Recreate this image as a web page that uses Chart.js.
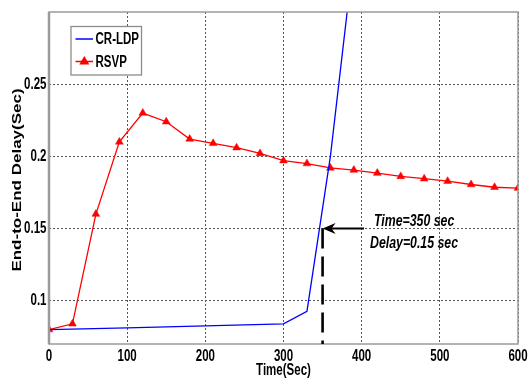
<!DOCTYPE html>
<html>
<head>
<meta charset="utf-8">
<script src="https://cdn.jsdelivr.net/npm/chart.js"></script>
<style>
html,body{margin:0;padding:0;background:#fff;}
#wrap{width:529px;height:384px;position:relative;}
</style>
</head>
<body>
<div id="wrap"><canvas id="c" width="529" height="384"></canvas></div>
<script>
// ---- data ----
const rsvpTime = [0,30,60,90,120,150,180,210,240,270,300,330,360,390,420,450,480,510,540,570,600];
const rsvpDelay = [0.080,0.084,0.160,0.210,0.230,0.224,0.212,0.209,0.206,0.202,0.197,0.195,0.192,0.1905,0.1884,0.1861,0.1845,0.1828,0.1805,0.1786,0.178];
const crldpTime = [0,100,200,300,330,360,390];
const crldpDelay = [0.080,0.0812,0.0826,0.084,0.0926,0.200,0.340];
const xTicks = [0,100,200,300,400,500,600];
const yTicks = [0.1,0.15,0.2,0.25];
const seriesNames = ['CR-LDP','RSVP'];
const markTime = 350, markDelay = 0.15;
const noteLines = ['Time=350 sec','Delay=0.15 sec'];
const xTitle = 'Time(Sec)';
const yTitle = 'End-to-End Delay(Sec)';

const SANS = "'Liberation Sans',Arial,sans-serif";
const SQ = 0.72; // horizontal squeeze of the original picture

function squeezedText(ctx, text, x, y, font, align, sx){
  ctx.save();
  ctx.font = font;
  ctx.textBaseline = 'middle';
  ctx.textAlign = 'left';
  const w = ctx.measureText(text).width * sx;
  let x0 = x;
  if (align === 'center') x0 = x - w/2;
  else if (align === 'right') x0 = x - w;
  ctx.translate(x0, y);
  ctx.scale(sx, 1);
  ctx.fillText(text, 0, 0);
  ctx.restore();
}

const toXY = (xs, ys) => xs.map((x,i)=>({x:x,y:ys[i]}));

const decor = {
  id:'decor',
  afterDraw(chart){
    const ctx = chart.ctx, a = chart.chartArea;
    const xs = chart.scales.x, ys = chart.scales.y;
    ctx.save();
    // frame
    ctx.strokeStyle = '#9a9a9a';
    ctx.lineWidth = 1.5;
    ctx.strokeRect(a.left, a.top, a.right-a.left, a.bottom-a.top);
    ctx.lineWidth = 2.5;
    ctx.beginPath(); ctx.moveTo(a.left, a.top); ctx.lineTo(a.left, a.bottom); ctx.stroke();

    // tick labels from the library's scales
    ctx.fillStyle = '#000';
    const tickFont = "bold 16px " + SANS;
    xs.ticks.forEach(t => {
      squeezedText(ctx, String(t.value), xs.getPixelForValue(t.value), 356.5, tickFont, 'center', SQ);
    });
    ys.ticks.forEach(t => {
      squeezedText(ctx, String(t.value), a.left - 2.5, ys.getPixelForValue(t.value), tickFont, 'right', SQ);
    });

    // annotation
    const px = xs.getPixelForValue(markTime), py = ys.getPixelForValue(markDelay);
    ctx.strokeStyle = '#000'; ctx.fillStyle = '#000';
    ctx.lineWidth = 2.6;
    ctx.setLineDash([20,8]);
    ctx.beginPath(); ctx.moveTo(px, py); ctx.lineTo(px, a.bottom); ctx.stroke();
    ctx.setLineDash([]);
    const tail = xs.getPixelForValue(403);
    ctx.lineWidth = 2.2;
    ctx.beginPath(); ctx.moveTo(px+8, py); ctx.lineTo(tail, py); ctx.stroke();
    ctx.beginPath();
    ctx.moveTo(px, py);
    ctx.lineTo(px+13, py-5.5);
    ctx.lineTo(px+9, py);
    ctx.lineTo(px+13, py+5.5);
    ctx.closePath(); ctx.fill();

    const noteFont = "italic bold 16px " + SANS;
    squeezedText(ctx, noteLines[0], 374, py-7, noteFont, 'left', 0.77);
    squeezedText(ctx, noteLines[1], 370, py+15, noteFont, 'left', 0.77);

    // legend
    const lx = 71, ly = 26.5, lw = 70.5, lh = 48.5;
    ctx.fillStyle = '#fff';
    ctx.fillRect(lx, ly, lw, lh);
    ctx.strokeStyle = '#8c8c8c'; ctx.lineWidth = 1.3;
    ctx.strokeRect(lx, ly, lw, lh);
    const rows = [39, 61.5];
    const colors = ['#0000ff','#ff0000'];
    for (let i=0;i<2;i++){
      ctx.strokeStyle = colors[i]; ctx.lineWidth = 1.5;
      ctx.beginPath(); ctx.moveTo(75.5, rows[i]); ctx.lineTo(93, rows[i]); ctx.stroke();
      if (i===1){
        ctx.fillStyle = colors[i];
        ctx.beginPath();
        ctx.moveTo(84.3, rows[i]-5.5); ctx.lineTo(89.3, rows[i]+3); ctx.lineTo(79.3, rows[i]+3);
        ctx.closePath(); ctx.fill();
      }
      ctx.fillStyle = '#000';
      squeezedText(ctx, seriesNames[i], 95.5, rows[i]+1, "bold 16px " + SANS, 'left', 0.72);
    }

    // axis titles
    ctx.fillStyle = '#000';
    squeezedText(ctx, xTitle, (a.left+a.right)/2, 371, "bold 16px " + SANS, 'center', 0.72);
    ctx.save();
    ctx.translate(17.5, 180);
    ctx.rotate(-Math.PI/2);
    ctx.scale(1, SQ);
    ctx.font = "bold 17px " + SANS;
    ctx.textAlign = 'center'; ctx.textBaseline = 'middle';
    ctx.fillText(yTitle, 0, 0);
    ctx.restore();
    ctx.restore();
  }
};

new Chart(document.getElementById('c'), {
  type:'line',
  data:{
    datasets:[
      {label:seriesNames[0], data:toXY(crldpTime, crldpDelay), borderColor:'#0000ff', borderWidth:1.3, pointRadius:0, tension:0, fill:false},
      {label:seriesNames[1], data:toXY(rsvpTime, rsvpDelay), borderColor:'#ff0000', backgroundColor:'#ff0000', borderWidth:1.3, pointStyle:'triangle', pointRadius:4.5, pointBorderWidth:0.5, pointBorderColor:'#ff0000', pointBackgroundColor:'#ff0000', tension:0, fill:false}
    ]
  },
  plugins:[decor],
  options:{
    responsive:false,
    animation:false,
    devicePixelRatio:1,
    layout:{padding:{left:0,right:11,top:12,bottom:0}},
    plugins:{legend:{display:false}, tooltip:{enabled:false}},
    scales:{
      x:{
        type:'linear', min:0, max:600,
        afterBuildTicks(s){ s.ticks = xTicks.map(v=>({value:v})); },
        afterFit(s){ s.height = 40; },
        grid:{color:'#555', lineWidth:1, drawTicks:false},
        border:{display:false, dash:[2,2]},
        ticks:{display:false}
      },
      y:{
        type:'linear', min:0.07, max:0.30,
        afterBuildTicks(s){ s.ticks = yTicks.map(v=>({value:v})); },
        afterFit(s){ s.width = 49; },
        grid:{color:'#555', lineWidth:1, drawTicks:false},
        border:{display:false, dash:[2,2]},
        ticks:{display:false}
      }
    }
  }
});
</script>
</body>
</html>
